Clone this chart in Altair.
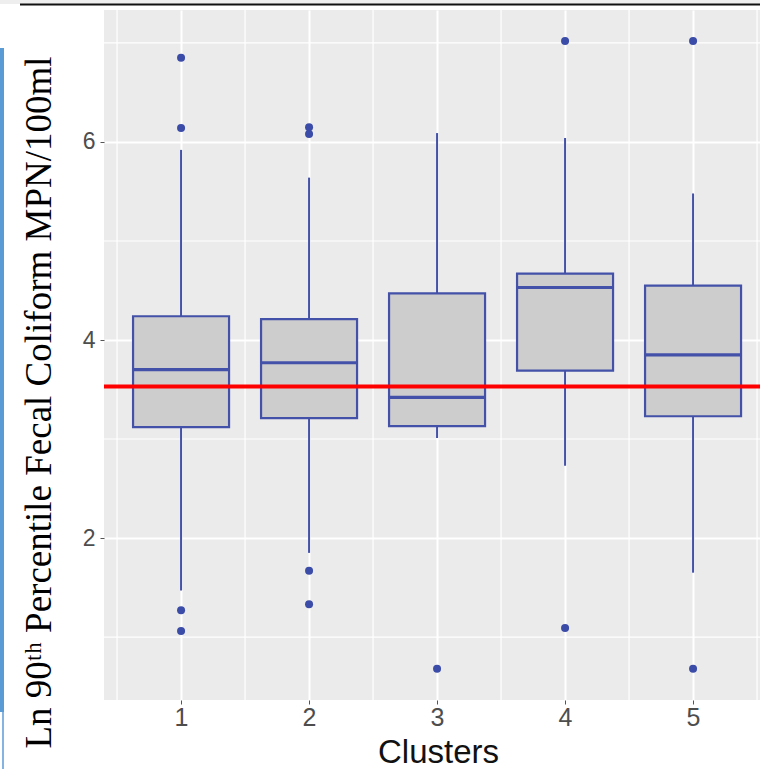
import altair as alt
import pandas as pd

# ---- data ----
clusters = [1, 2, 3, 4, 5]
q1 = [3.12, 3.21, 3.13, 3.69, 3.23]
medians = [3.70, 3.77, 3.42, 4.53, 3.85]
q3 = [4.24, 4.21, 4.47, 4.67, 4.55]
whisker_low = [1.47, 1.85, 3.01, 2.73, 1.65]
whisker_high = [5.92, 5.64, 6.09, 6.04, 5.48]

outlier_cluster = [1, 1, 1, 1, 2, 2, 2, 2, 3, 4, 4, 5, 5]
outlier_value = [6.85, 6.14, 1.27, 1.06, 6.15, 6.08, 1.67, 1.33, 0.68, 7.02, 1.09, 7.02, 0.68]

threshold = [3.53]

x_ticks = [1, 2, 3, 4, 5]
y_ticks = [2, 4, 6]
x_minor = [0.5, 1.5, 2.5, 3.5, 4.5, 5.5]
y_minor = [1, 3, 5, 7]

y_title = "Ln 90ᵗʰ Percentile Fecal Coliform MPN/100ml"
x_title = "Clusters"

box_df = pd.DataFrame({"cluster": clusters, "q1": q1, "median": medians, "q3": q3,
                       "lo": whisker_low, "hi": whisker_high})
out_df = pd.DataFrame({"cluster": outlier_cluster, "value": outlier_value})

BLUE = "#4351A8"
GRID = "#FFFFFF"

xs = alt.Scale(domain=[0.398, 5.523], nice=False, zero=False)
ys = alt.Scale(domain=[0.364, 7.333], nice=False, zero=False)

x_axis = alt.Axis(values=x_ticks, format="d", title=x_title, grid=True, gridColor=GRID, gridWidth=2,
                  domain=False, tickColor="#555555", tickSize=4, labelFontSize=25,
                  labelColor="#4D4D4D", labelFont="Liberation Sans", labelPadding=1,
                  titleFont="Liberation Sans", titleFontSize=33, titleFontWeight="normal",
                  titleColor="#111111", titleX=334, titleY=62, titleBaseline="alphabetic",
                  titleAlign="center")
y_axis = alt.Axis(values=y_ticks, format="d", title=y_title, grid=True, gridColor=GRID, gridWidth=2,
                  domain=False, tickColor="#555555", tickSize=4, labelFontSize=23,
                  labelColor="#4D4D4D", labelFont="Liberation Sans", labelPadding=5,
                  titleFont="Liberation Serif", titleFontSize=37, titleFontWeight="normal",
                  titleColor="#000000", titleAngle=270, titleX=-54, titleY=738,
                  titleAlign="left", titleBaseline="alphabetic")

base = alt.Chart(box_df)

minor_x = alt.Chart(pd.DataFrame({"v": x_minor})).mark_rule(color=GRID, strokeWidth=1.2).encode(
    x=alt.X("v:Q", scale=xs, axis=x_axis))
minor_y = alt.Chart(pd.DataFrame({"v": y_minor})).mark_rule(color=GRID, strokeWidth=1.2).encode(
    y=alt.Y("v:Q", scale=ys, axis=y_axis))

whisk_lo = base.mark_rule(color=BLUE, strokeWidth=2).encode(
    x=alt.X("cluster:Q", scale=xs), y=alt.Y("lo:Q", scale=ys), y2="q1:Q")
whisk_hi = base.mark_rule(color=BLUE, strokeWidth=2).encode(
    x=alt.X("cluster:Q", scale=xs), y=alt.Y("q3:Q", scale=ys), y2="hi:Q")

boxes = base.transform_calculate(xl="datum.cluster - 0.375", xr="datum.cluster + 0.375").mark_rect(
    fill="#CDCDCD", stroke=BLUE, strokeWidth=2.2).encode(
    x=alt.X("xl:Q", scale=xs), x2="xr:Q", y=alt.Y("q1:Q", scale=ys), y2="q3:Q")

med = base.transform_calculate(xl="datum.cluster - 0.375", xr="datum.cluster + 0.375").mark_rule(
    color=BLUE, strokeWidth=3.2).encode(
    x=alt.X("xl:Q", scale=xs), x2="xr:Q", y=alt.Y("median:Q", scale=ys))

pts = alt.Chart(out_df).mark_circle(color="#3A4BA8", opacity=1, size=64).encode(
    x=alt.X("cluster:Q", scale=xs), y=alt.Y("value:Q", scale=ys))

red = alt.Chart(pd.DataFrame({"t": threshold})).mark_rule(color="#FF0000", strokeWidth=4).encode(
    y=alt.Y("t:Q", scale=ys))

# decorations of the slide around the chart
top_band = alt.Chart(pd.DataFrame({"a": [0]})).mark_rect(color="#EEEEEE").encode(
    x=alt.value(-104), x2=alt.value(656), y=alt.value(-10), y2=alt.value(-6))
top_line = alt.Chart(pd.DataFrame({"a": [0]})).mark_rule(color="#111111", strokeWidth=2).encode(
    x=alt.value(-84), x2=alt.value(656), y=alt.value(-5.5))
blue_strip = alt.Chart(pd.DataFrame({"a": [0]})).mark_rect(color="#5B9BD5").encode(
    x=alt.value(-104), x2=alt.value(-100), y=alt.value(38), y2=alt.value(702))
blue_thin = alt.Chart(pd.DataFrame({"a": [0]})).mark_rule(color="#5B9BD5", strokeWidth=1.5).encode(
    x=alt.value(-101), y=alt.value(702), y2=alt.value(759))

chart = alt.layer(
    minor_x, minor_y, whisk_lo, whisk_hi, boxes, med, pts, red,
    top_band, top_line, blue_strip, blue_thin
).properties(
    width=656, height=690,
    padding={"left": 104, "top": 10, "right": 0, "bottom": 69},
    autosize=alt.AutoSizeParams(type="none"),
    background="#FFFFFF",
).configure_view(fill="#EBEBEB", stroke=None)

chart.save("out.html", embed_options={"renderer": "svg", "actions": False})
